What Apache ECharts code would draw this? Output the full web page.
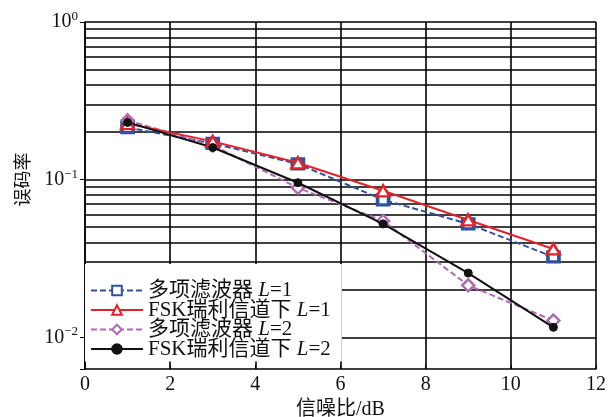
<!DOCTYPE html>
<html>
<head>
<meta charset="utf-8">
<script src="https://cdn.jsdelivr.net/npm/echarts@6/dist/echarts.min.js"></script>
<style>html,body{margin:0;padding:0;background:#fff}#c{width:609px;height:417px}</style>
</head>
<body>
<div id="c"></div>
<script>
var snr = [1, 3, 5, 7, 9, 11];
var polyL1 = [0.214, 0.170, 0.126, 0.0746, 0.0525, 0.0324];
var fskL1 = [0.227, 0.175, 0.128, 0.0851, 0.0556, 0.0364];
var polyL2 = [0.238, 0.165, 0.0889, 0.0548, 0.0214, 0.0128];
var fskL2 = [0.231, 0.160, 0.0957, 0.0525, 0.0256, 0.0116];
var xTicks = [0, 2, 4, 6, 8, 10, 12];
var yGridValues = [0.01,0.02,0.03,0.04,0.05,0.06,0.07,0.08,0.09,0.1,0.2,0.3,0.4,0.5,0.6,0.7,0.8,0.9,1];
var seriesNames = ['多项滤波器 L=1', 'FSK瑞利信道下 L=1', '多项滤波器 L=2', 'FSK瑞利信道下 L=2'];

var SERIF = "'Liberation Serif', 'Noto Sans CJK SC', serif";

function pairs(v) { return snr.map(function (x, i) { return [x, v[i]]; }); }

var chart = echarts.init(document.getElementById('c'), null, {renderer: 'canvas'});
chart.setOption({
  animation: false,
  backgroundColor: '#fff',
  grid: {left: 85, right: 13, top: 22, bottom: 48, containLabel: false, outerBoundsMode: 'none'},
  legend: {
    orient: 'vertical',
    left: 85, top: 264,
    padding: [16, 11, 2, 5],
    itemGap: -1.5,
    itemWidth: 52, itemHeight: 12,
    backgroundColor: '#fff',
    z: 10,
    data: seriesNames,
    formatter: function (n) {
      var m = n.match(/^(.*) L=(\d)$/);
      return '{t|' + m[1] + ' }{i|L}{t|=' + m[2] + '}';
    },
    textStyle: {
      fontSize: 21, color: '#111', fontFamily: SERIF,
      rich: {
        t: {fontSize: 21, color: '#111', fontFamily: SERIF},
        i: {fontSize: 21, color: '#111', fontFamily: SERIF, fontStyle: 'italic'}
      }
    }
  },
  xAxis: {
    type: 'value', min: 0, max: 12, interval: 2,
    name: '信噪比/dB', nameLocation: 'middle', nameGap: 29,
    nameTextStyle: {fontSize: 20, color: '#111', fontFamily: SERIF},
    axisLine: {lineStyle: {color: '#000', width: 1.5}},
    axisTick: {inside: true, length: 4, lineStyle: {color: '#000'}},
    axisLabel: {fontSize: 20, color: '#111', fontFamily: SERIF, margin: 6,
      formatter: function (v) { return xTicks.indexOf(v) >= 0 ? String(v) : ''; }},
    splitLine: {show: true, lineStyle: {color: '#000', width: 1.6}}
  },
  yAxis: {
    type: 'log', logBase: 10, min: Math.pow(10, -2.2), max: 1,
    name: '误码率', nameLocation: 'middle', nameGap: 51,
    nameTextStyle: {fontSize: 18, color: '#111', fontFamily: SERIF, padding: [0, 0, 0, 32]},
    axisLine: {show: true, lineStyle: {color: '#000', width: 1.5}},
    axisTick: {show: true, length: 5, lineStyle: {color: '#000'}},
    axisLabel: {
      margin: 7, color: '#111',
      formatter: function (v) {
        var l = Math.log10(v), e = Math.round(l);
        if (Math.abs(l - e) > 1e-6) return '';
        return '{b|10}{s|' + (e < 0 ? '\u2212' + (-e) : e) + '}';
      },
      rich: {
        b: {fontSize: 20, color: '#111', fontFamily: SERIF},
        s: {fontSize: 13, color: '#111', fontFamily: SERIF, padding: [0, 0, 11, 0]}
      }
    },
    splitLine: {show: false}
  },
  series: [
    {
      name: seriesNames[0], type: 'line', data: pairs(polyL1), z: 3,
      symbol: 'rect', symbolSize: [11, 10],
      lineStyle: {color: '#2c52a0', width: 2, type: [6, 3]},
      itemStyle: {color: '#fff', borderColor: '#2c52a0', borderWidth: 3.5},
      markLine: {
        silent: true, symbol: 'none', animation: false, z: 1,
        label: {show: false},
        lineStyle: {color: '#000', width: 1.6, type: 'solid'},
        emphasis: {disabled: true},
        data: yGridValues.map(function (v) { return {yAxis: v}; })
      }
    },
    {
      name: seriesNames[1], type: 'line', data: pairs(fskL1), z: 4,
      symbol: 'triangle', symbolSize: [13, 11],
      lineStyle: {color: '#e4222a', width: 2},
      itemStyle: {color: '#fff', borderColor: '#e4222a', borderWidth: 2.5}
    },
    {
      name: seriesNames[2], type: 'line', data: pairs(polyL2), z: 3,
      symbol: 'diamond', symbolSize: [12, 12],
      lineStyle: {color: '#b06ab3', width: 2, type: [6, 3]},
      itemStyle: {color: '#fff', borderColor: '#b06ab3', borderWidth: 2.5}
    },
    {
      name: seriesNames[3], type: 'line', data: pairs(fskL2), z: 4,
      symbol: 'circle', symbolSize: 8,
      lineStyle: {color: '#111', width: 2},
      itemStyle: {color: '#111', borderColor: '#111', borderWidth: 1}
    }
  ]
});
</script>
</body>
</html>
